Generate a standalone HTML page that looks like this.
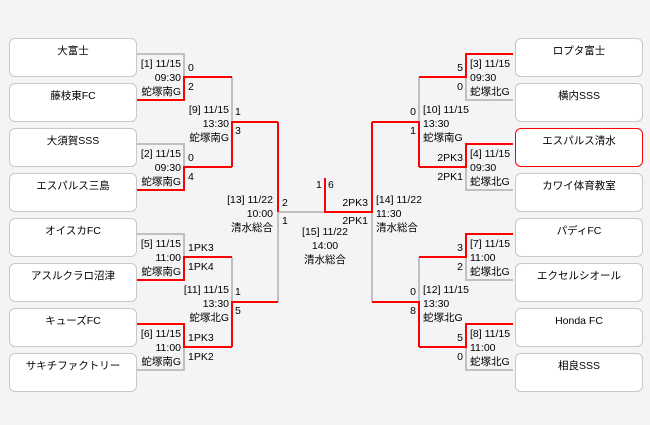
<!DOCTYPE html>
<html><head><meta charset="utf-8"><style>
html,body{margin:0;padding:0}
body{width:650px;height:425px;background:#f4f3f6;position:relative;overflow:hidden;font-family:"Liberation Sans","Noto Sans CJK JP",sans-serif;font-size:10.5px;color:#000}
.b{position:absolute;width:128px;height:39px;background:#fff;border:1px solid #c8c8c8;border-radius:6px;text-align:center;line-height:14px;padding-top:5px;box-sizing:border-box;font-size:10.5px}
.l{left:9px}.r{left:515px}
.red{border-color:#ff0000}
.t{position:absolute;line-height:14px;white-space:nowrap}
svg{position:absolute;left:0;top:0}
</style></head><body>
<svg width="650" height="425" fill="none" stroke-width="2">
<g stroke="#c0c0c0">
<path d="M137,54H184V100"/><path d="M137,144H184V167"/><path d="M137,234H184V257"/><path d="M184,347V370H137"/>
<path d="M232,77V122"/><path d="M232,257V302"/><path d="M278,212V302"/><path d="M278,212H372V302"/>
<path d="M466,77V100H513"/><path d="M466,167V190H513"/><path d="M466,257V280H513"/><path d="M466,347V370H513"/>
<path d="M419,77V122"/><path d="M419,257V302"/>
</g>
<g stroke="#ff0000">
<path d="M137,100H184V77H232"/><path d="M137,190H184V167H232"/><path d="M137,280H184V257H232"/><path d="M137,324H184V347H232"/>
<path d="M232,167V122H278"/><path d="M232,347V302H278"/><path d="M278,122V212"/>
<path d="M325,178V212H372V122"/>
<path d="M513,54H466V77H419"/><path d="M513,144H466V167H419"/><path d="M513,234H466V257H419"/><path d="M513,324H466V347H419"/>
<path d="M419,167V122H372"/><path d="M419,347V302H372"/>
</g>
</svg>
<div class="b l" style="top:38px">大富士</div>
<div class="b l" style="top:83px">藤枝東FC</div>
<div class="b l" style="top:128px">大須賀SSS</div>
<div class="b l" style="top:173px">エスパルス三島</div>
<div class="b l" style="top:218px">オイスカFC</div>
<div class="b l" style="top:263px">アスルクラロ沼津</div>
<div class="b l" style="top:308px">キューズFC</div>
<div class="b l" style="top:353px">サキチファクトリー</div>
<div class="b r" style="top:38px">ロプタ富士</div>
<div class="b r" style="top:83px">横内SSS</div>
<div class="b r red" style="top:128px">エスパルス清水</div>
<div class="b r" style="top:173px">カワイ体育教室</div>
<div class="b r" style="top:218px">パディFC</div>
<div class="b r" style="top:263px">エクセルシオール</div>
<div class="b r" style="top:308px">Honda FC</div>
<div class="b r" style="top:353px">相良SSS</div>

<div class="t" style="right:469px;top:57px;text-align:right">[1] 11/15<br>09:30<br>蛇塚南G</div>
<div class="t" style="right:469px;top:147px;text-align:right">[2] 11/15<br>09:30<br>蛇塚南G</div>
<div class="t" style="right:469px;top:237px;text-align:right">[5] 11/15<br>11:00<br>蛇塚南G</div>
<div class="t" style="right:469px;top:327px;text-align:right">[6] 11/15<br>11:00<br>蛇塚南G</div>
<div class="t" style="left:188px;top:61px">0</div><div class="t" style="left:188px;top:80px">2</div>
<div class="t" style="left:188px;top:151px">0</div><div class="t" style="left:188px;top:170px">4</div>
<div class="t" style="left:188px;top:241px">1PK3</div><div class="t" style="left:188px;top:260px">1PK4</div>
<div class="t" style="left:188px;top:331px">1PK3</div><div class="t" style="left:188px;top:350px">1PK2</div>
<div class="t" style="right:421px;top:103px;text-align:right">[9] 11/15<br>13:30<br>蛇塚南G</div>
<div class="t" style="right:421px;top:283px;text-align:right">[11] 11/15<br>13:30<br>蛇塚北G</div>
<div class="t" style="left:235px;top:105px">1</div><div class="t" style="left:235px;top:124px">3</div>
<div class="t" style="left:235px;top:285px">1</div><div class="t" style="left:235px;top:304px">5</div>
<div class="t" style="right:377px;top:193px;text-align:right">[13] 11/22<br>10:00<br>清水総合</div>
<div class="t" style="left:282px;top:196px">2</div><div class="t" style="left:282px;top:214px">1</div>
<div class="t" style="left:316px;top:178px">1</div><div class="t" style="left:328px;top:178px">6</div>
<div class="t" style="right:282px;top:196px;text-align:right">2PK3</div><div class="t" style="right:282px;top:214px;text-align:right">2PK1</div>
<div class="t" style="left:376px;top:193px">[14] 11/22<br>11:30<br>清水総合</div>
<div class="t" style="left:265px;width:120px;text-align:center;top:225px">[15] 11/22<br>14:00<br>清水総合</div>
<div class="t" style="left:470px;top:57px">[3] 11/15<br>09:30<br>蛇塚北G</div>
<div class="t" style="left:470px;top:147px">[4] 11/15<br>09:30<br>蛇塚北G</div>
<div class="t" style="left:470px;top:237px">[7] 11/15<br>11:00<br>蛇塚北G</div>
<div class="t" style="left:470px;top:327px">[8] 11/15<br>11:00<br>蛇塚北G</div>
<div class="t" style="right:187px;top:61px;text-align:right">5</div><div class="t" style="right:187px;top:80px;text-align:right">0</div>
<div class="t" style="right:187px;top:151px;text-align:right">2PK3</div><div class="t" style="right:187px;top:170px;text-align:right">2PK1</div>
<div class="t" style="right:187px;top:241px;text-align:right">3</div><div class="t" style="right:187px;top:260px;text-align:right">2</div>
<div class="t" style="right:187px;top:331px;text-align:right">5</div><div class="t" style="right:187px;top:350px;text-align:right">0</div>
<div class="t" style="left:423px;top:103px">[10] 11/15<br>13:30<br>蛇塚南G</div>
<div class="t" style="left:423px;top:283px">[12] 11/15<br>13:30<br>蛇塚北G</div>
<div class="t" style="right:234px;top:105px;text-align:right">0</div><div class="t" style="right:234px;top:124px;text-align:right">1</div>
<div class="t" style="right:234px;top:285px;text-align:right">0</div><div class="t" style="right:234px;top:304px;text-align:right">8</div>
</body></html>
